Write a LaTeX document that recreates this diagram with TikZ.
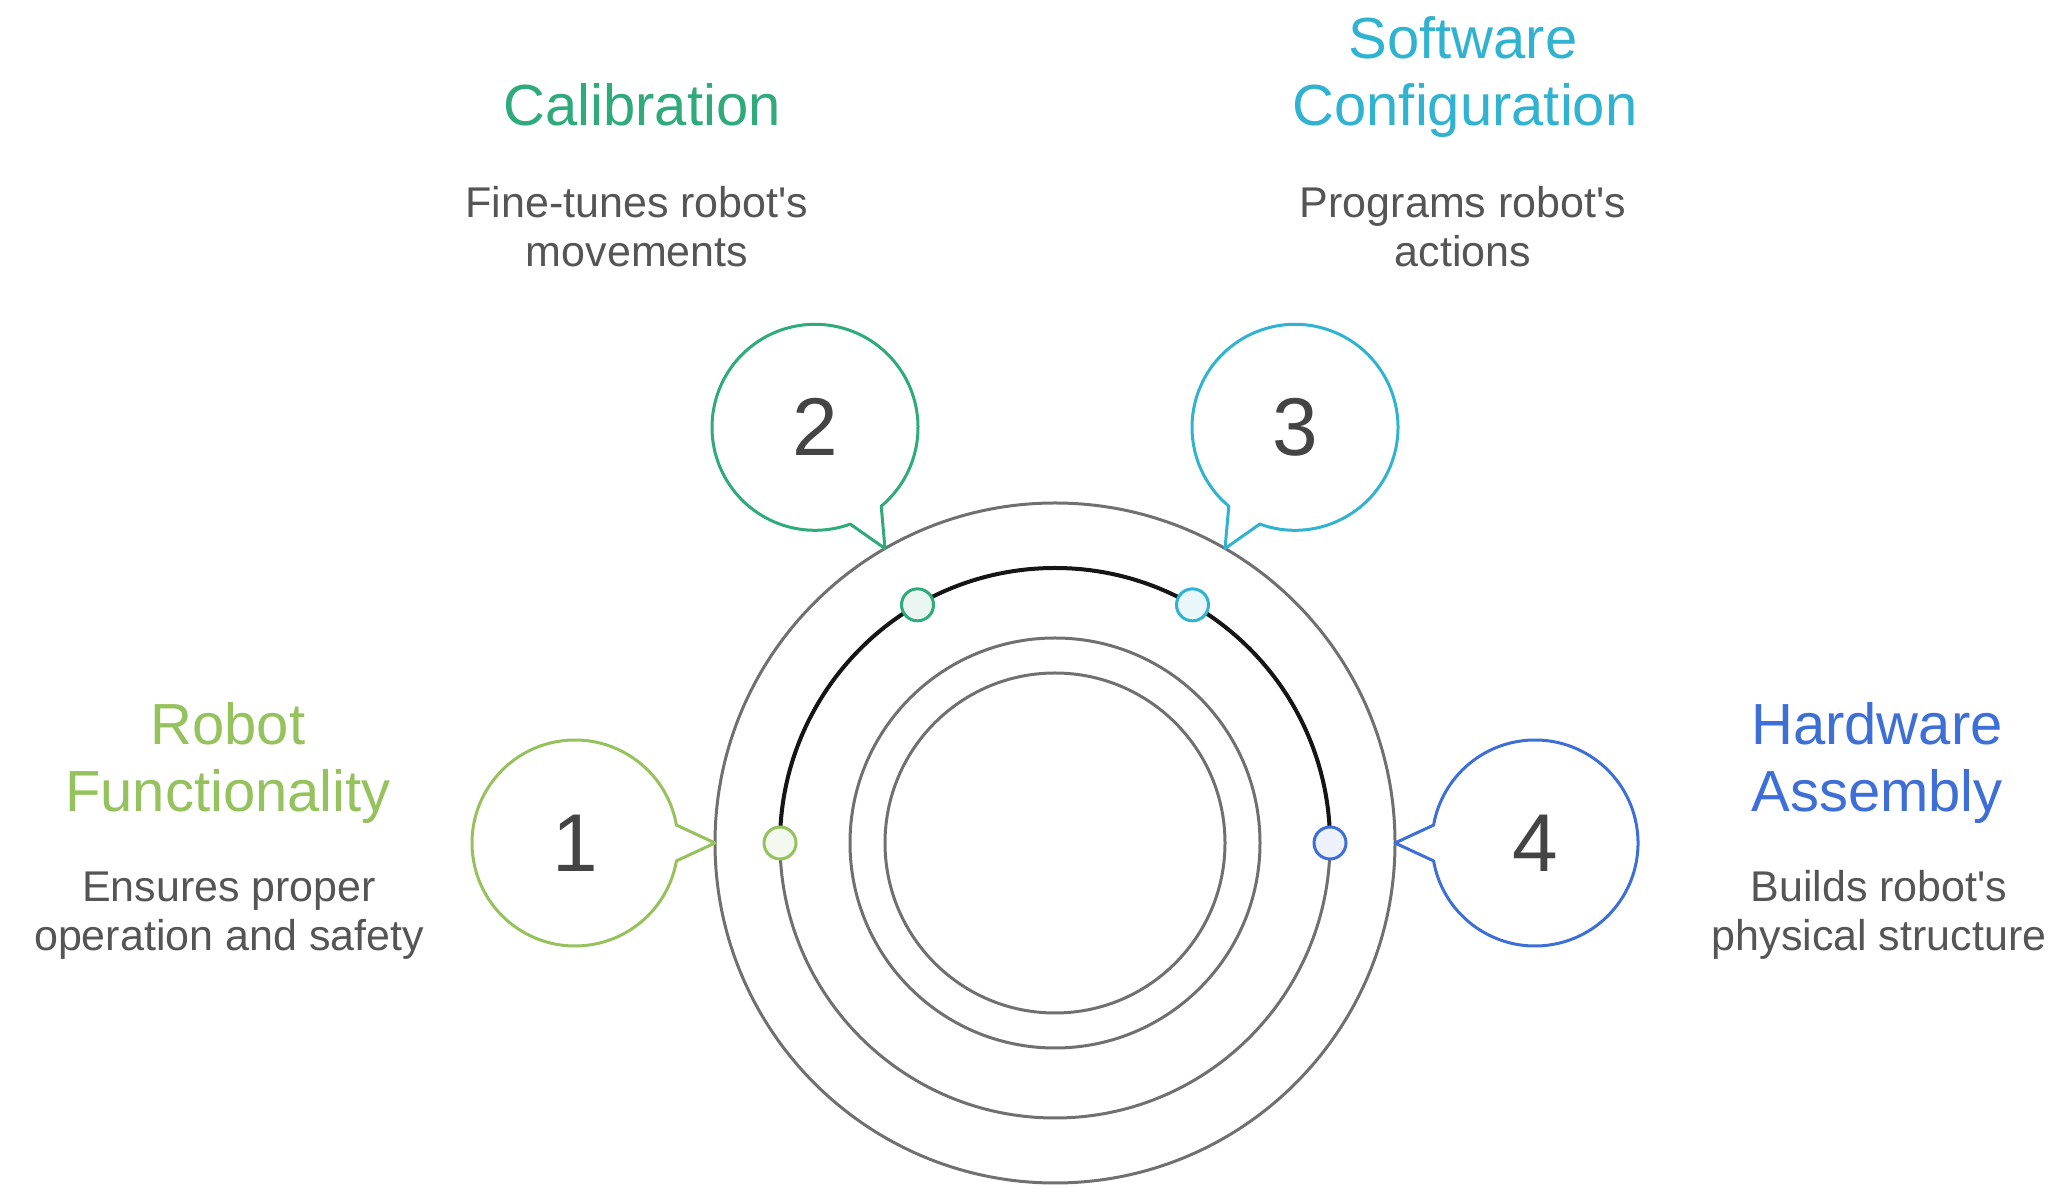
\documentclass[tikz,border=0pt]{standalone}
\usepackage{fontspec}
\setmainfont{Liberation Sans}
\usetikzlibrary{calc}
\definecolor{cA}{HTML}{95C25C}
\definecolor{cB}{HTML}{2EAA7B}
\definecolor{cC}{HTML}{30B3D0}
\definecolor{cD}{HTML}{3D6FD6}
\definecolor{ringgray}{HTML}{707070}
\definecolor{arcblack}{HTML}{151515}
\definecolor{numgray}{HTML}{444444}
\definecolor{descgray}{HTML}{555555}
\begin{document}
\begin{tikzpicture}[x=1pt,y=1pt,
  ring/.style={draw=ringgray, line width=3pt},
  bubble/.style={line width=3pt, fill=white, line join=round},
  num/.style={font=\fontsize{82}{82}\selectfont, text=numgray},
  ttl/.style={font=\fontsize{58}{67}\selectfont, anchor=base},
  dsc/.style={font=\fontsize{43}{49}\selectfont, text=descgray, anchor=base},
  dotn/.style={circle, line width=3pt, minimum size=32pt, inner sep=0pt}
]
\fill[white] (0,0) rectangle (2063,1188);
\useasboundingbox (0,0) rectangle (2063,1188);
\coordinate (C) at (1055,345);
\draw[ring] (C) circle[radius=340];
\draw[ring] (C) circle[radius=275];
\draw[ring] (C) circle[radius=205];
\draw[ring] (C) circle[radius=170];
\draw[arcblack, line width=4pt] ($(C)+(180:275)$) arc[start angle=180, end angle=0, radius=275];
\foreach \n/\ang/\dir/\col in {1/180/0/cA, 2/120/-60/cB, 3/60/240/cC, 4/0/180/cD}{
  \coordinate (b\n) at ($(C)+(\ang:480)$);
  \coordinate (tip\n) at ($(C)+(\ang:340)$);
  \draw[bubble, draw=\col] ($(b\n)+(\dir+10:103)$) arc[start angle=\dir+10, end angle=\dir+350, radius=103] -- (tip\n) -- cycle;
  \node[num] (n\n) at (b\n) {\n};
  \node[dotn, draw=\col, fill=\col!10] (d\n) at ($(C)+(\ang:275)$) {};
}
% titles and descriptions
\node[ttl, text=cA] (t1a) at (228,443) {Robot};
\node[ttl, text=cA] (t1b) at (228,376) {Functionality};
\node[dsc] (s1a) at (229,286) {Ensures proper};
\node[dsc] (s1b) at (229,237) {operation and safety};
\node[ttl, text=cB] (t2a) at (642,1062) {Calibration};
\node[dsc] (s2a) at (637,970) {Fine-tunes robot\textquotesingle s};
\node[dsc] (s2b) at (637,921) {movements};
\node[ttl, text=cC] (t3a) at (1463,1129) {Software};
\node[ttl, text=cC] (t3b) at (1465,1062) {Configuration};
\node[dsc] (s3a) at (1463,970) {Programs robot\textquotesingle s};
\node[dsc] (s3b) at (1463,921) {actions};
\node[ttl, text=cD] (t4a) at (1877,443) {Hardware};
\node[ttl, text=cD] (t4b) at (1877,376) {Assembly};
\node[dsc] (s4a) at (1879,286) {Builds robot\textquotesingle s};
\node[dsc] (s4b) at (1879,237) {physical structure};
\end{tikzpicture}
\end{document}
